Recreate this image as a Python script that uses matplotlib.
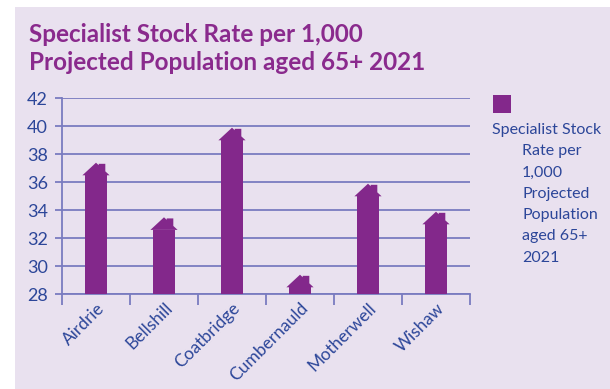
import matplotlib.pyplot as plt
from matplotlib.patches import Rectangle, Polygon

# data (tip of each house-shaped bar)
towns = ["Airdrie", "Bellshill", "Coatbridge", "Cumbernauld", "Motherwell", "Wishaw"]
rates = [37.4, 33.5, 39.9, 29.4, 35.9, 33.9]
yticks = [28, 30, 32, 34, 36, 38, 40, 42]
legend_lines = ["Specialist Stock", "Rate per", "1,000", "Projected",
                "Population", "aged 65+", "2021"]

BG = "#E9E1EF"
PURPLE = "#83288B"
TITLE = "#8A2A8D"
BLUE = "#2C4699"
GRID = "#7A7CC0"
FONT = "Lato"

W, H = 610, 389
fig = plt.figure(figsize=(W / 100, H / 100), dpi=100)
fig.patch.set_facecolor("white")
fig.patches.append(Rectangle((15 / W, 0), 1, 1 - 7 / H, transform=fig.transFigure,
                             facecolor=BG, edgecolor="none", zorder=-10))

ax = fig.add_axes([62 / W, 1 - 294.3 / H, (470 - 62) / W, (294.3 - 98.3) / H])
ax.set_facecolor("none")

roof_h = 0.9
body_w = 0.31
roof_w = 0.40
x = range(len(towns))
ax.bar(x, [r - roof_h - 28 for r in rates], bottom=28, width=body_w,
       color=PURPLE, zorder=3)
for c, tip in zip(x, rates):
    s = tip - roof_h
    hw = roof_w / 2
    slope = roof_h / hw
    pts = [(c - body_w / 2, s), (c - hw, s), (c, tip),
           (c + 0.04, tip - slope * 0.04), (c + 0.04, tip - 0.08),
           (c + 0.137, tip - 0.08), (c + 0.137, tip - slope * 0.137),
           (c + hw, s), (c + body_w / 2, s)]
    ax.add_patch(Polygon(pts, closed=True, facecolor=PURPLE, edgecolor="none", zorder=3))

ax.set_xlim(-0.5, 5.5)
ax.set_ylim(28, 42)
ax.set_yticks(yticks)
ax.set_xticks([i - 0.5 for i in range(len(towns) + 1)], minor=False)
ax.set_xticklabels([])
ax.set_xticks(list(x), minor=True)
ax.set_xticklabels(towns, minor=True, rotation=45, ha="right", va="top",
                   rotation_mode="anchor", fontsize=12.5, color=BLUE, family=FONT)
ax.tick_params(axis="x", which="minor", length=0, pad=4)
ax.tick_params(axis="x", which="major", length=8, width=1.3, color=GRID, direction="out")
ax.tick_params(axis="y", length=5, width=1.3, color=GRID, labelsize=13,
               labelcolor=BLUE, pad=5)
for lab in ax.get_yticklabels():
    lab.set_family(FONT)

ax.grid(axis="y", color=GRID, lw=1.3, zorder=1)
ax.set_axisbelow(True)
for side in ["top", "right"]:
    ax.spines[side].set_visible(False)
for side in ["left", "bottom"]:
    ax.spines[side].set_color(GRID)
    ax.spines[side].set_linewidth(1.3)

fig.text(29 / W, 1 - 35 / H, "Specialist Stock Rate per 1,000", color=TITLE,
         fontsize=17.5, fontweight="bold", family=FONT, va="center")
fig.text(29 / W, 1 - 62 / H, "Projected Population aged 65+ 2021", color=TITLE,
         fontsize=17.5, fontweight="bold", family=FONT, va="center")

# legend
fig.patches.append(Rectangle((493 / W, 1 - 113 / H), 18 / W, 18 / H,
                             transform=fig.transFigure, facecolor=PURPLE,
                             edgecolor="none"))
for i, line in enumerate(legend_lines):
    lx = 492 if i == 0 else 522
    fig.text(lx / W, 1 - (130 + 21.3 * i) / H, line, color=BLUE, fontsize=11.5,
             family=FONT, va="center")

fig.savefig("out.png", dpi=100)
